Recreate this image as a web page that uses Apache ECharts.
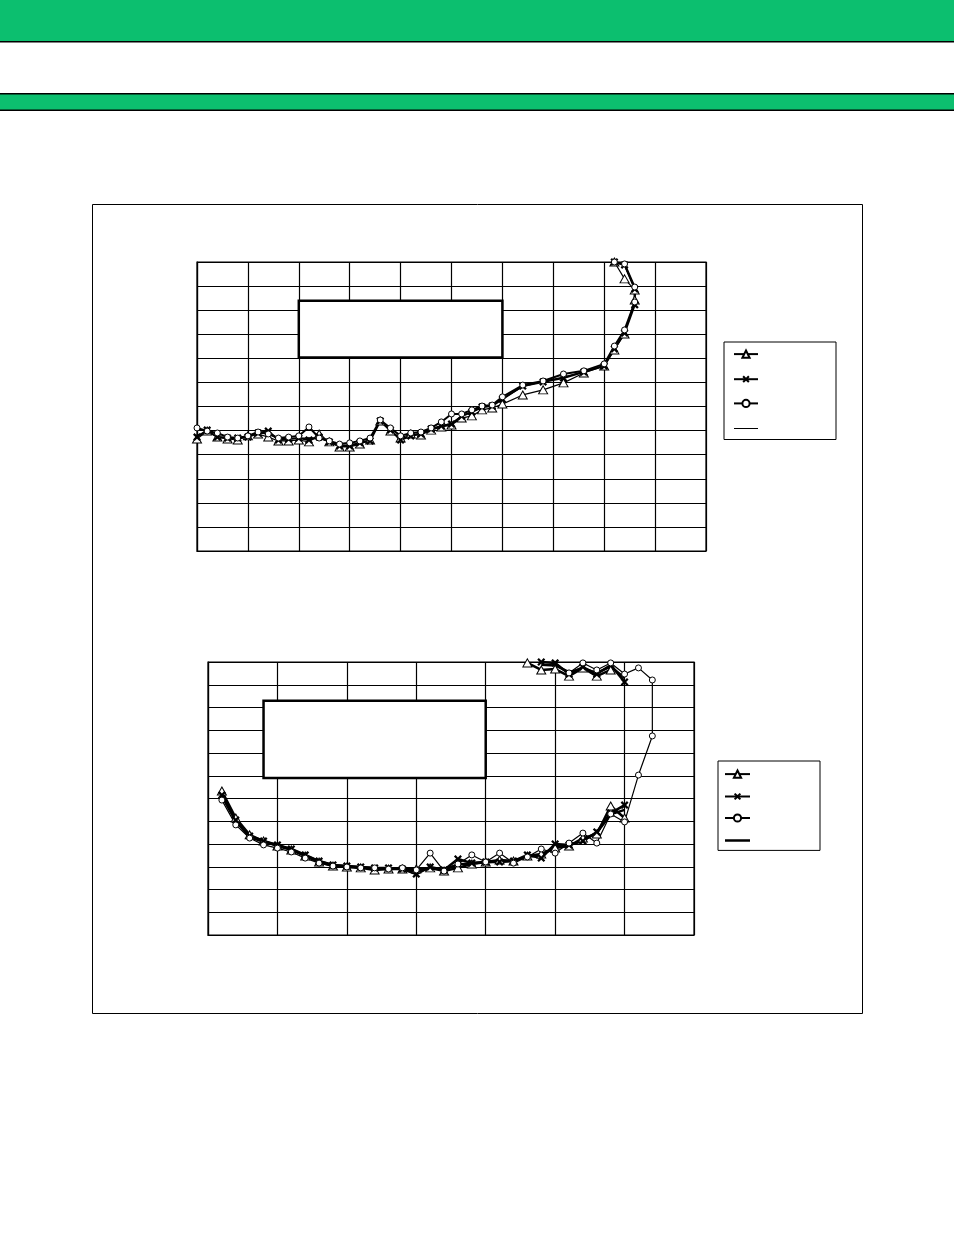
<!DOCTYPE html>
<html>
<head>
<meta charset="utf-8">
<script src="https://cdn.jsdelivr.net/npm/echarts@6/dist/echarts.min.js"></script>
<style>
  html, body { margin: 0; padding: 0; background: #fff; }
  #chart { width: 954px; height: 1235px; }
</style>
</head>
<body>
<div id="chart"></div>
<script>
// ---- upper chart (x / y in grid units) ----
const topX = [0, 0.2, 0.4, 0.6, 0.8, 1.0, 1.2, 1.4, 1.6, 1.8, 2.0, 2.2, 2.4, 2.6, 2.8, 3.0, 3.2, 3.4, 3.6, 3.8,
  4.0, 4.2, 4.4, 4.6, 4.8, 5.0, 5.2, 5.4, 5.6, 5.8, 6.0, 6.4, 6.8, 7.2, 7.6, 8.0, 8.2, 8.4, 8.6, 8.6, 8.4, 8.2]
const topTri = [4.65, 4.98, 4.73, 4.65, 4.61, 4.78, 4.86, 4.73, 4.57, 4.57, 4.61, 4.53, 4.86, 4.53, 4.32, 4.32, 4.44, 4.61, 5.40, 4.98,
  4.69, 4.86, 4.82, 5.02, 5.15, 5.23, 5.52, 5.61, 5.86, 5.94, 6.10, 6.48, 6.69, 6.98, 7.39, 7.68, 8.35, 9.01, 10.42, 10.84, 11.30, 12.0]
const topCross = [4.73, 5.02, 4.73, 4.69, 4.69, 4.73, 4.90, 4.98, 4.61, 4.65, 4.69, 4.61, 4.73, 4.53, 4.36, 4.36, 4.49, 4.57, 5.40, 5.02,
  4.61, 4.78, 4.86, 5.07, 5.19, 5.27, 5.60, 5.77, 5.98, 6.02, 6.30, 6.85, 7.02, 7.18, 7.43, 7.68, 8.39, 9.05, 10.22, 10.88, 11.88, 12.0]
const topCircle = [5.11, 4.98, 4.90, 4.73, 4.69, 4.78, 4.94, 4.86, 4.69, 4.73, 4.78, 5.15, 4.69, 4.57, 4.44, 4.49, 4.57, 4.69, 5.44, 5.11,
  4.78, 4.90, 4.94, 5.11, 5.36, 5.69, 5.69, 5.86, 6.02, 6.06, 6.40, 6.89, 7.06, 7.35, 7.48, 7.77, 8.51, 9.18, 10.34, 10.96, 11.92, 12.0]
const topPlain = [4.80, 4.95, 4.75, 4.70, 4.70, 4.78, 4.88, 4.90, 4.68, 4.66, 4.68, 4.70, 4.68, 4.55, 4.40, 4.40, 4.50, 4.62, 5.40, 4.98,
  4.65, 4.80, 4.90, 5.05, 5.20, 5.30, 5.60, 5.78, 5.96, 6.05, 6.32, 6.82, 7.04, 7.22, 7.45, 7.70, 8.40, 9.10, 10.30, 10.90, 11.85, 12.0]

// ---- lower chart ----
const botX = [0.2, 0.4, 0.6, 0.8, 1.0, 1.2, 1.4, 1.6, 1.8, 2.0, 2.2, 2.4, 2.6, 2.8, 3.0,
  3.2, 3.4, 3.6, 3.8, 4.0, 4.2, 4.4, 4.6, 4.8, 5.0, 5.2, 5.4, 5.6, 5.8, 6.0]
const botTriLow = [6.33, 5.14, 4.40, 4.13, 3.91, 3.74, 3.47, 3.21, 3.03, 2.99, 2.95, 2.86, 2.90, 2.90, 2.90,
  2.95, 2.81, 2.95, 3.12, 3.21, 3.30, 3.25, 3.47, 3.56, 3.82, 3.91, 4.26, 4.44, 5.67, 5.14]
const botCrossLow = [6.15, 5.05, 4.35, 4.13, 3.96, 3.78, 3.52, 3.25, 3.08, 3.03, 2.99, 2.95, 2.95, 2.90, 2.68,
  2.99, 2.86, 3.34, 3.16, 3.21, 3.21, 3.25, 3.52, 3.38, 4.00, 3.96, 4.13, 4.53, 5.36, 5.71]
const botCircleLow = [5.93, 4.84, 4.26, 3.96, 3.82, 3.65, 3.38, 3.16, 3.03, 2.99, 2.95, 2.95, 2.90, 2.95, 2.86,
  3.60, 2.81, 3.12, 3.52, 3.21, 3.60, 3.16, 3.43, 3.78, 3.60, 4.04, 4.48, 4.04, 5.32, 4.97]
const botPlainLow = [6.10, 5.00, 4.30, 4.10, 3.95, 3.76, 3.50, 3.24, 3.07, 3.02, 2.98, 2.94, 2.93, 2.90, 2.80,
  2.92, 2.88, 3.10, 3.15, 3.20, 3.24, 3.26, 3.45, 3.50, 3.90, 3.95, 4.15, 4.50, 5.30, 5.50]
const botCircleTailX = [6.2, 6.4, 6.4, 6.2, 6.0, 5.8, 5.6, 5.4, 5.2]
const botCircleTail = [7.03, 8.75, 11.21, 11.74, 11.47, 11.96, 11.65, 11.96, 11.52]
const botTriUpX = [4.6, 4.8, 5.0, 5.2, 5.4, 5.6, 5.8]
const botTriUp = [11.96, 11.65, 11.69, 11.38, 11.74, 11.38, 11.65]
const botUpX = [4.8, 5.0, 5.2, 5.4, 5.6, 5.8, 6.0]
const botCrossUp = [12.0, 11.96, 11.47, 11.78, 11.47, 11.87, 11.12]
const botPlainUp = [11.88, 11.85, 11.55, 11.72, 11.52, 11.80, 11.30]

const GREEN = '#0cbf6f'
const CROSS = 'path://M2,0 L5,3 L8,0 L10,2 L7,5 L10,8 L8,10 L5,7 L2,10 L0,8 L3,5 L0,2 Z'
// plain line legend icons (zero-area subpaths only pin the 9px box height)
const LINE_THIN = 'path://M0,0 L24,0 Z M0,3.9 L24,3.9 L24,5.1 L0,5.1 Z M0,9 L24,9 Z'
const LINE_THICK = 'path://M0,0 L25,0 Z M0,3.25 L25,3.25 L25,5.75 L0,5.75 Z M0,9 L25,9 Z'

function zip (xs, ys) {
  return xs.map((x, i) => [x, ys[i]])
}
const GAP = ['-', '-']

function lineSeries (name, idx, data, kind, width) {
  const s = {
    name: name,
    type: 'line',
    xAxisIndex: idx,
    yAxisIndex: idx,
    data: data,
    connectNulls: false,
    animation: false,
    lineStyle: { color: '#000', width: width },
    itemStyle: { color: '#fff', borderColor: '#000', borderWidth: 1 },
    z: 3
  }
  if (kind === 'tri') {
    s.symbol = 'triangle'
    s.symbolSize = [9, 8]
  } else if (kind === 'cross') {
    s.symbol = CROSS
    s.symbolSize = 8
    s.itemStyle = { color: '#000', borderWidth: 0 }
  } else if (kind === 'circle') {
    s.symbol = 'circle'
    s.symbolSize = 6
  } else {
    s.symbol = 'none'
  }
  return s
}

function axisPair (idx, max) {
  return {
    type: 'value',
    gridIndex: idx,
    min: 0,
    max: max,
    interval: 1,
    axisLine: { show: true, lineStyle: { color: '#000', width: 1.2 } },
    axisTick: { show: false },
    axisLabel: { show: false },
    splitLine: { show: true, lineStyle: { color: '#000', width: 1.2 } }
  }
}

const topSeries = [
  lineSeries('t1', 0, zip(topX, topTri), 'tri', 1.2),
  lineSeries('t2', 0, zip(topX, topCross), 'cross', 2),
  lineSeries('t3', 0, zip(topX, topCircle), 'circle', 2),
  lineSeries('t4', 0, zip(topX, topPlain), 'plain', 1.2)
]
topSeries[3].markArea = {
  silent: true,
  itemStyle: { color: '#fff', borderColor: '#000', borderWidth: 2.5 },
  data: [[{ coord: [2, 8.03] }, { coord: [6, 10.39] }]]
}

const botSeries = [
  lineSeries('b1', 1, zip(botX, botTriLow).concat([GAP], zip(botTriUpX, botTriUp)), 'tri', 2.5),
  lineSeries('b2', 1, zip(botX, botCrossLow).concat([GAP], zip(botUpX, botCrossUp)), 'cross', 2.5),
  lineSeries('b3', 1, zip(botX, botCircleLow).concat(zip(botCircleTailX, botCircleTail)), 'circle', 1.2),
  lineSeries('b4', 1, zip(botX, botPlainLow).concat([GAP], zip(botUpX, botPlainUp)), 'plain', 2.5)
]
botSeries[3].markArea = {
  silent: true,
  itemStyle: { color: '#fff', borderColor: '#000', borderWidth: 2.5 },
  data: [[{ coord: [0.8, 6.9] }, { coord: [4, 10.3] }]]
}

const chart = echarts.init(document.getElementById('chart'), null, { renderer: 'canvas' })

const option = {
  backgroundColor: '#fff',
  animation: false,
  graphic: [
    { type: 'rect', shape: { x: 0, y: 0, width: 954, height: 41 }, style: { fill: GREEN }, z: -10 },
    { type: 'rect', shape: { x: 0, y: 41, width: 954, height: 1.5 }, style: { fill: '#000' }, z: -10 },
    { type: 'rect', shape: { x: 0, y: 93, width: 954, height: 18 }, style: { fill: '#000' }, z: -10 },
    { type: 'rect', shape: { x: 0, y: 94.5, width: 954, height: 15 }, style: { fill: GREEN }, z: -9 },
    { type: 'rect', shape: { x: 92.5, y: 204.5, width: 770, height: 809 }, style: { fill: 'none', stroke: '#000', lineWidth: 1 }, z: -10 }
  ],
  grid: [
    { left: 197, top: 262, width: 509, height: 289, show: true, borderColor: '#000', borderWidth: 1.2 },
    { left: 208, top: 662, width: 486, height: 273, show: true, borderColor: '#000', borderWidth: 1.2 }
  ],
  xAxis: [axisPair(0, 10), axisPair(1, 7)],
  yAxis: [axisPair(0, 12), axisPair(1, 12)],
  legend: [
    {
      data: ['t1', 't2', 't3', { name: 't4', icon: LINE_THIN, itemStyle: { color: '#000', borderWidth: 0 } }],
      orient: 'vertical',
      left: 724,
      top: 342,
      itemWidth: 24,
      itemHeight: 9,
      itemGap: 16,
      padding: [7.5, 77, 6.5, 9],
      borderColor: '#000',
      borderWidth: 1,
      formatter: () => '',
      selectedMode: false
    },
    {
      data: ['b1', 'b2', 'b3', { name: 'b4', icon: LINE_THICK, itemStyle: { color: '#000', borderWidth: 0 } }],
      orient: 'vertical',
      left: 718,
      top: 761,
      itemWidth: 25,
      itemHeight: 9,
      itemGap: 13.3,
      padding: [8.5, 69, 5.5, 6],
      borderColor: '#000',
      borderWidth: 1,
      formatter: () => '',
      selectedMode: false
    }
  ],
  series: topSeries.concat(botSeries)
}

chart.setOption(option)
</script>
</body>
</html>
